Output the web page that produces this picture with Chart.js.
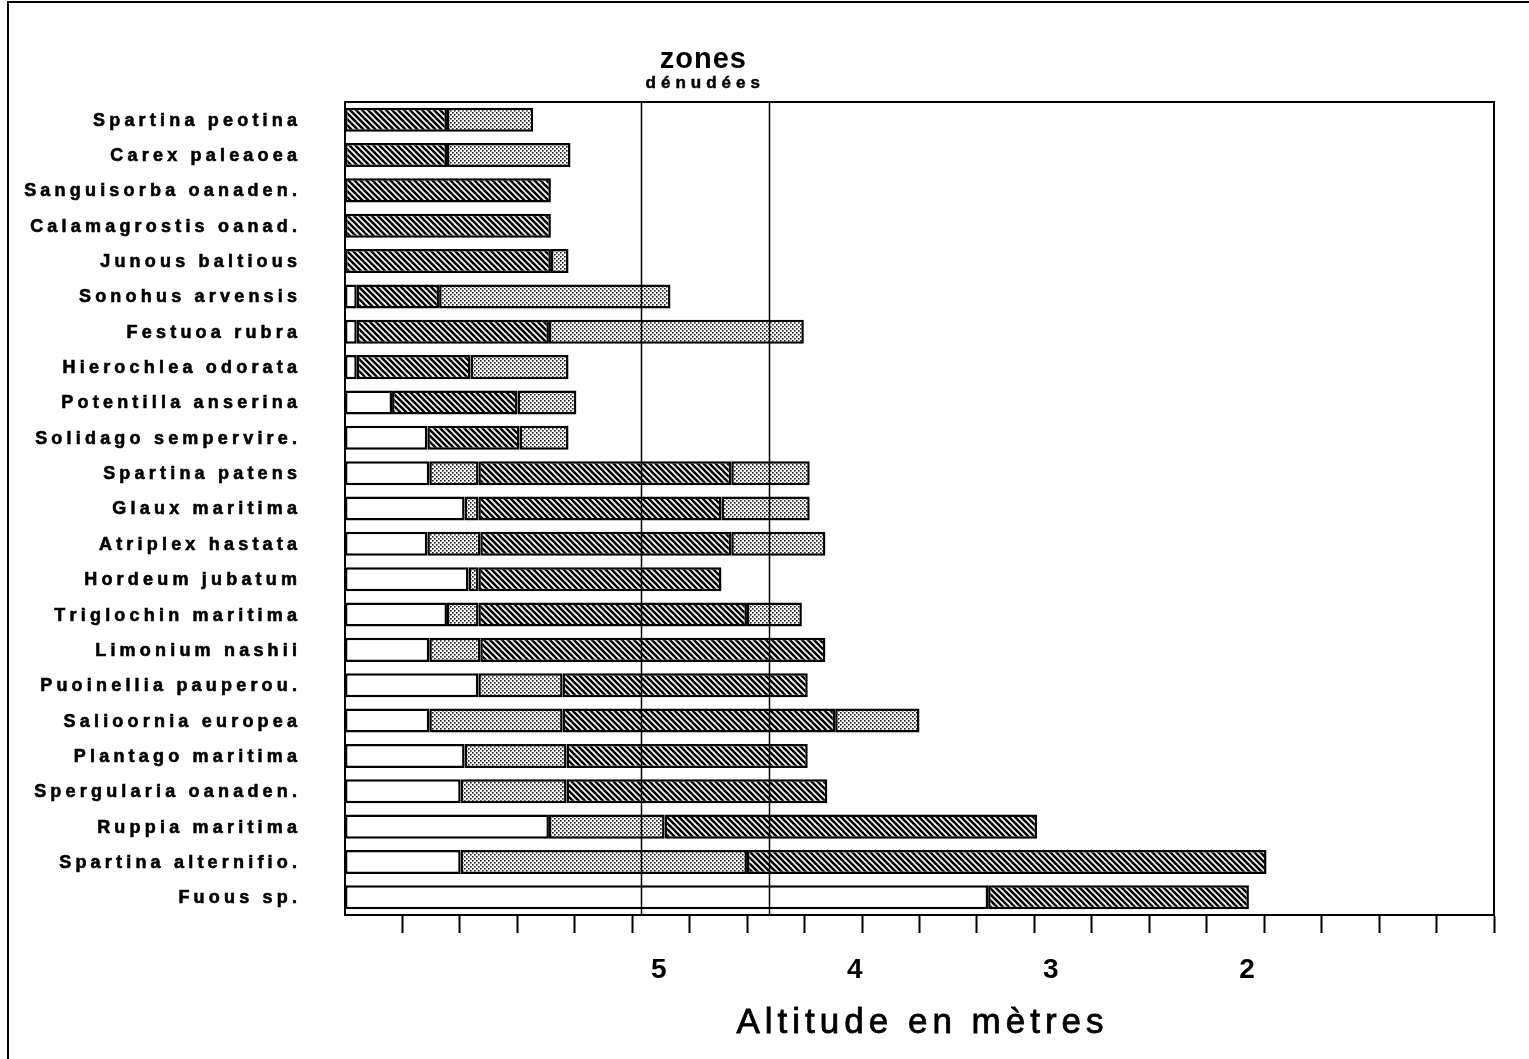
<!DOCTYPE html>
<html>
<head>
<meta charset="utf-8">
<script src="https://cdn.jsdelivr.net/npm/chart.js@4.4.0/dist/chart.umd.min.js"></script>
<style>
  body { margin: 0; background: #fff; }
  canvas { display: block; }
</style>
</head>
<body>
<canvas id="chart" width="1529" height="1059"></canvas>
<script>
// Species, top to bottom
const species = [
    'Spartina peotina', 'Carex paleaoea', 'Sanguisorba oanaden.', 'Calamagrostis oanad.',
    'Junous baltious', 'Sonohus arvensis', 'Festuoa rubra', 'Hierochlea odorata',
    'Potentilla anserina', 'Solidago sempervire.', 'Spartina patens', 'Glaux maritima',
    'Atriplex hastata', 'Hordeum jubatum', 'Triglochin maritima', 'Limonium nashii',
    'Puoinellia pauperou.', 'Salioornia europea', 'Plantago maritima', 'Spergularia oanaden.',
    'Ruppia maritima', 'Spartina alternifio.', 'Fuous sp.'
];

// Altitude ranges (m) for each band: [from, to]
const blankSeg = [
    null, null, null, null, null,
    [6.60, 6.54], [6.60, 6.54], [6.60, 6.54], [6.60, 6.36], [6.60, 6.18],
    [6.60, 6.17], [6.60, 5.99], [6.60, 6.18], [6.60, 5.97], [6.60, 6.08],
    [6.60, 6.17], [6.60, 5.92], [6.60, 6.17], [6.60, 5.99], [6.60, 6.01],
    [6.60, 5.56], [6.60, 6.01], [6.60, 3.32]
];
const lightHigh = [
    null, null, null, null, null, null, null, null, null, null,
    [6.17, 5.92], [5.99, 5.92], [6.18, 5.91], [5.97, 5.92], [6.08, 5.92],
    [6.17, 5.91], [5.92, 5.49], [6.17, 5.49], [5.99, 5.47], [6.01, 5.47],
    [5.56, 4.97], [6.01, 4.55], null
];
const darkSeg = [
    [6.60, 6.08], [6.60, 6.08], [6.60, 5.55], [6.60, 5.55], [6.60, 5.55],
    [6.54, 6.12], [6.54, 5.56], [6.54, 5.96], [6.36, 5.72], [6.18, 5.71],
    [5.92, 4.63], [5.92, 4.68], [5.91, 4.63], [5.92, 4.68], [5.92, 4.55],
    [5.91, 4.15], [5.49, 4.24], [5.49, 4.10], [5.47, 4.24], [5.47, 4.14],
    [4.97, 3.07], [4.55, 1.90], [3.32, 1.99]
];
const lightLow = [
    [6.08, 5.64], [6.08, 5.45], null, null, [5.55, 5.46],
    [6.12, 4.94], [5.56, 4.26], [5.96, 5.46], [5.72, 5.42], [5.71, 5.46],
    [4.63, 4.23], [4.68, 4.23], [4.63, 4.15], null, [4.55, 4.27],
    null, null, [4.10, 3.67], null, null,
    null, null, null
];

const tickLabels = [5, 4, 3, 2];
const zoneBounds = [5.09, 4.44];
const axisMax = 6.60;
const axisMin = 0.74;

const FONT = "'Liberation Sans', Arial, sans-serif";

// fill patterns: stipple and diagonal hatch
function makeDots() {
    const c = document.createElement('canvas');
    c.width = 4; c.height = 4;
    const g = c.getContext('2d');
    g.fillStyle = '#fff';
    g.fillRect(0, 0, 4, 4);
    g.fillStyle = '#1a1a1a';
    g.fillRect(0, 0, 1.6, 1.6);
    g.fillRect(2, 2, 1.6, 1.6);
    return g.createPattern(c, 'repeat');
}

function makeHatch() {
    const c = document.createElement('canvas');
    c.width = 6; c.height = 6;
    const g = c.getContext('2d');
    g.fillStyle = '#fff';
    g.fillRect(0, 0, 6, 6);
    g.strokeStyle = '#000';
    g.lineWidth = 2.6;
    g.beginPath();
    g.moveTo(-1, -1); g.lineTo(7, 7);
    g.moveTo(-1, 5); g.lineTo(1, 7);
    g.moveTo(5, -1); g.lineTo(7, 1);
    g.stroke();
    return g.createPattern(c, 'repeat');
}

const dots = makeDots();
const hatch = makeHatch();

// text with wide letter spacing, drawn char by char (optional stroke for weight)
function spacedText(ctx, text, x, y, spacing, align, weight) {
    const widths = [...text].map(ch => ctx.measureText(ch).width);
    const total = widths.reduce((a, b) => a + b, 0) + spacing * (widths.length - 1);
    let cx = align === 'right' ? x - total : align === 'center' ? x - total / 2 : x;
    ctx.textAlign = 'left';
    ctx.lineWidth = weight || 0;
    [...text].forEach((ch, i) => {
        ctx.fillText(ch, cx, y);
        if (weight) ctx.strokeText(ch, cx, y);
        cx += widths[i] + spacing;
    });
}

const decorations = {
    id: 'decorations',
    afterDraw(chart) {
        const ctx = chart.ctx;
        const area = chart.chartArea;
        const xs = chart.scales.x;
        const ys = chart.scales.y;
        ctx.save();

        // zone lines
        ctx.strokeStyle = '#000';
        ctx.lineWidth = 1.5;
        zoneBounds.forEach(v => {
            const px = Math.round(xs.getPixelForValue(v)) + 0.5;
            ctx.beginPath();
            ctx.moveTo(px, area.top);
            ctx.lineTo(px, area.bottom);
            ctx.stroke();
        });

        // plot frame
        ctx.lineWidth = 2;
        ctx.strokeRect(area.left, area.top, area.right - area.left, area.bottom - area.top);

        // page frame (left and top)
        ctx.beginPath();
        ctx.moveTo(8, chart.height);
        ctx.lineTo(8, 2);
        ctx.lineTo(chart.width, 2);
        ctx.stroke();

        // species labels
        ctx.fillStyle = '#000';
        ctx.strokeStyle = '#000';
        ctx.font = 'bold 18px ' + FONT;
        ctx.textBaseline = 'middle';
        species.forEach((name, i) => {
            spacedText(ctx, name, area.left - 48, ys.getPixelForValue(i) + 1, 4.2, 'right', 0.6);
        });

        // zone heading
        const mid = (xs.getPixelForValue(zoneBounds[0]) + xs.getPixelForValue(zoneBounds[1])) / 2;
        ctx.textBaseline = 'alphabetic';
        ctx.font = 'bold 29px ' + FONT;
        spacedText(ctx, 'zones', mid - 2, 68, 1, 'center');
        ctx.font = 'bold 17px ' + FONT;
        spacedText(ctx, 'dénudées', mid - 2, 88, 5, 'center', 0.5);

        // axis title
        ctx.font = '35px ' + FONT;
        spacedText(ctx, 'Altitude en mètres', 920, 1033, 5, 'center', 0.8);

        ctx.restore();
    }
};

function band(data, fill) {
    return {
        data: data,
        backgroundColor: fill,
        borderColor: '#000',
        borderWidth: 2.5,
        borderSkipped: false,
        grouped: false,
        barPercentage: 0.68,
        categoryPercentage: 1
    };
}

const ctx = document.getElementById('chart').getContext('2d');
const chart = new Chart(ctx, {
    type: 'bar',
    data: {
        labels: species,
        datasets: [
            band(blankSeg, '#fff'),
            band(lightHigh, dots),
            band(darkSeg, hatch),
            band(lightLow, dots)
        ]
    },
    options: {
        indexAxis: 'y',
        responsive: false,
        animation: false,
        layout: { padding: { left: 345, right: 35, top: 102, bottom: 0 } },
        plugins: {
            legend: { display: false },
            tooltip: { enabled: false }
        },
        scales: {
            y: { display: false },
            x: {
                type: 'linear',
                reverse: true,
                min: axisMin,
                max: axisMax,
                afterFit: scale => { scale.height = 144; },
                afterBuildTicks: scale => {
                    const step = (scale.max - scale.min) / 20;
                    const marks = [];
                    for (let i = 0; i < 20; i++) marks.push({ value: scale.min + i * step });
                    scale.ticks = marks.concat(tickLabels.map(v => ({ value: v })))
                        .sort((a, b) => a.value - b.value);
                },
                grid: {
                    drawOnChartArea: false,
                    drawTicks: true,
                    tickLength: 18,
                    tickWidth: 2,
                    tickColor: c => (c.tick && tickLabels.includes(c.tick.value)) ? 'rgba(0,0,0,0)' : '#000'
                },
                border: { display: true, color: '#000', width: 2 },
                ticks: {
                    autoSkip: false,
                    maxRotation: 0,
                    padding: 20,
                    color: '#000',
                    font: { family: FONT, size: 28, weight: 'bold' },
                    callback: value => tickLabels.includes(value) ? String(value) : ''
                }
            }
        }
    },
    plugins: [decorations]
});
</script>
</body>
</html>
